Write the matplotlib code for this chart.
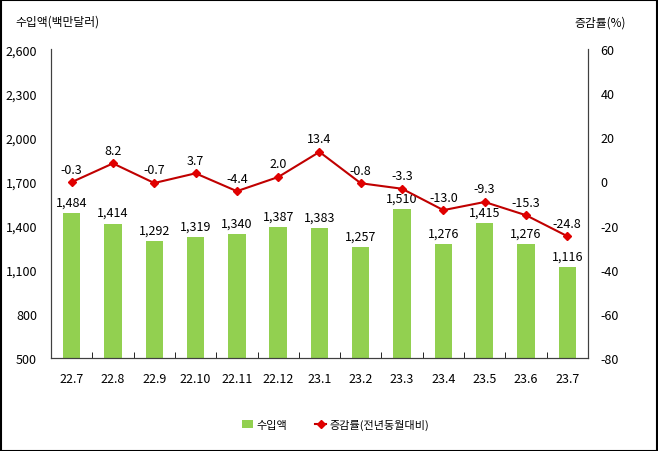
import matplotlib.pyplot as plt
import numpy as np

plt.rcParams['font.family'] = ['Noto Sans CJK KR', 'DejaVu Sans']
plt.rcParams['axes.unicode_minus'] = False

months = ['22.7', '22.8', '22.9', '22.10', '22.11', '22.12', '23.1',
          '23.2', '23.3', '23.4', '23.5', '23.6', '23.7']
imports = [1484, 1414, 1292, 1319, 1340, 1387, 1383, 1257, 1510, 1276, 1415, 1276, 1116]
growth = [-0.3, 8.2, -0.7, 3.7, -4.4, 2.0, 13.4, -0.8, -3.3, -13.0, -9.3, -15.3, -24.8]

fig = plt.figure(figsize=(6.58, 4.52), dpi=100)
ax = fig.add_axes([0.0775, 0.206, 0.816, 0.683])
x = np.arange(len(months))

ax.bar(x, imports, width=0.42, color='#92D050', label='수입액', zorder=2)
ax.set_ylim(500, 2600)
ax.set_yticks(range(500, 2601, 300))
ax.set_yticklabels([f'{v:,}' for v in range(500, 2601, 300)])
ax.set_xlim(-0.5, len(months) - 0.5)
ax.set_xticks(x)
ax.set_xticklabels(months)
ax.set_xticks(np.arange(-0.5, len(months), 1), minor=True)
ax.tick_params(axis='x', which='major', length=0, pad=10)
ax.tick_params(axis='x', which='minor', length=4, direction='in')
ax.tick_params(axis='y', length=0, pad=10)
ax.spines['top'].set_visible(False)
for s in ['left', 'right', 'bottom']:
    ax.spines[s].set_color('#404040')

for xi, v in zip(x, imports):
    ax.text(xi, v + 30, f'{v:,}', ha='center', va='bottom', fontsize=9)

ax2 = ax.twinx()
ax2.plot(x, growth, color='#C00000', marker='D', markersize=4,
         markerfacecolor='#E00000', markeredgecolor='#E00000', linewidth=1.5,
         label='증감률(전년동월대비)', zorder=3)
ax2.set_ylim(-80, 60)
ax2.set_yticks(range(-80, 61, 20))
ax2.tick_params(axis='y', length=0, pad=9)
ax2.spines['top'].set_visible(False)
for s in ['left', 'right', 'bottom']:
    ax2.spines[s].set_color('#404040')

for xi, v in zip(x, growth):
    ax2.text(xi, v + 3, f'{v:.1f}', ha='center', va='bottom', fontsize=9)

for a in (ax, ax2):
    for lbl in a.get_xticklabels() + a.get_yticklabels():
        lbl.set_fontsize(9)

fig.text(0.023, 0.952, '수입액(백만달러)', fontsize=8.5, va='center')
fig.text(0.873, 0.948, '증감률(%)', fontsize=8.5, va='center')

h1, l1 = ax.get_legend_handles_labels()
h2, l2 = ax2.get_legend_handles_labels()
fig.legend(h1 + h2, l1 + l2, loc='center', bbox_to_anchor=(0.51, 0.058), ncol=2,
           frameon=False, fontsize=8, handlelength=1.0, handletextpad=0.3,
           columnspacing=2.5)

fig.patches.append(plt.Rectangle((0.001, 0.001), 0.997, 0.997, transform=fig.transFigure,
                                 fill=False, edgecolor='black', linewidth=1.5))

fig.savefig('out.png', dpi=100)
